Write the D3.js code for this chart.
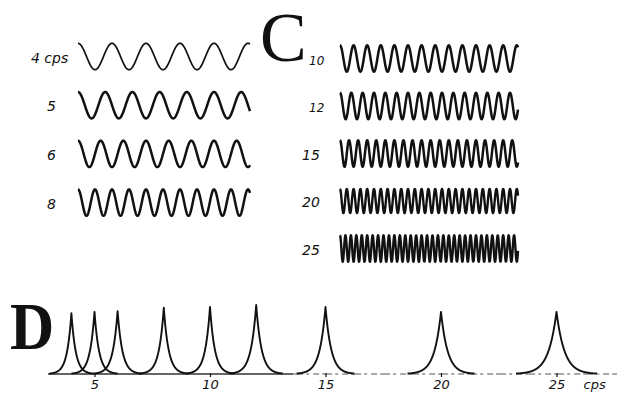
<!DOCTYPE html>
<html>
<head>
<meta charset="utf-8">
<script src="https://cdn.jsdelivr.net/npm/d3@7"></script>
<style>
  html, body { margin: 0; padding: 0; background: #fff; }
  svg { display: block; }
  .lbl { font-family: "DejaVu Sans", sans-serif; font-style: italic; fill: #111; }
</style>
</head>
<body>
<svg id="fig" width="617" height="393"></svg>
<script>
// Panel C: stimulus waveforms, one trace per flicker frequency (cycles per second)
const waveFreqs  = [4, 5, 6, 8, 10, 12, 15, 20, 25];
const waveLabels = ["4 cps", "5", "6", "8", "10", "12", "15", "20", "25"];

// Panel D: response spectra, one peak per stimulus frequency
const peakFreqs   = [4, 5, 6, 8, 10, 12, 15, 20, 25];
const peakHeights = [0.88, 0.90, 0.91, 0.96, 0.97, 1.00, 0.97, 0.90, 0.90];
const peakWidths  = [0.19, 0.20, 0.21, 0.21, 0.21, 0.23, 0.25, 0.29, 0.35];

// Frequency axis
const axisTicks      = [5, 10, 15, 20, 25];
const axisTickLabels = ["5", "10", "15", "20", "25"];
const axisUnit       = "cps";

const svg = d3.select("#fig");

// ---------- Panel C ----------
svg.append("text")
  .attr("x", 260).attr("y", 61)
  .attr("font-family", "Liberation Serif, serif")
  .attr("font-size", 70)
  .attr("fill", "#111")
  .text("C");

// row layout: left column holds the first four traces, right column the rest
const rows = waveFreqs.map((f, i) => {
  const left = i < 4;
  const r = left ? i : i - 4;
  return {
    f, label: waveLabels[i],
    cy: left ? 56.5 + r * 48.7 : 58.5 + r * 47.5,
    x0: left ? 78 : 340,
    x1: left ? 250 : 518,
    lx: left ? (i === 0 ? 31 : 47) : (r < 2 ? 309 : 302),
    ls: left ? 14 : (r < 2 ? 12 : 14),
    amp: left ? 13.2 : (f === 20 ? 12 : 13.2),
    sw: f === 4 ? 1.7 : (f >= 20 ? 2.4 : 2.5)
  };
});

const pxPerSec = 136; // time scale of the traces
rows.forEach(row => {
  const T = (row.x1 - row.x0) / pxPerSec;
  const tx = d3.scaleLinear().domain([0, T]).range([row.x0, row.x1]);
  const vy = d3.scaleLinear().domain([-1, 1]).range([row.cy + row.amp, row.cy - row.amp]);
  const ts = d3.range(0, T + 1e-9, T / 1200);
  const line = d3.line()
    .x(t => tx(t))
    .y(t => vy(Math.cos(2 * Math.PI * row.f * t)))
    .curve(d3.curveLinear);
  svg.append("path")
    .datum(ts)
    .attr("d", line)
    .attr("fill", "none")
    .attr("stroke", "#111")
    .attr("stroke-width", row.sw)
    .attr("stroke-linejoin", "round");
  svg.append("text")
    .attr("class", "lbl")
    .attr("x", row.lx).attr("y", row.cy + 6)
    .attr("font-size", row.ls)
    .text(row.label);
});

// ---------- Panel D ----------
svg.append("text")
  .attr("transform", "translate(10,349) scale(0.9,1)")
  .attr("font-family", "Liberation Serif, serif")
  .attr("font-weight", "bold")
  .attr("font-size", 68)
  .attr("fill", "#111")
  .text("D");

const baseY = 374;
const x = d3.scaleLinear().domain([5, 25]).range([94.5, 556.5]);
const y = d3.scaleLinear().domain([0, 1]).range([baseY, 305]);

// baseline: solid under the low-frequency peaks, broken further right
const fStart = x.invert(48), fSplit = 13.6, fEnd = x.invert(617);
svg.append("line")
  .attr("x1", x(fStart)).attr("x2", x(fSplit))
  .attr("y1", baseY).attr("y2", baseY)
  .attr("stroke", "#333").attr("stroke-width", 1.4);
svg.append("line")
  .attr("x1", x(fSplit)).attr("x2", x(fEnd))
  .attr("y1", baseY).attr("y2", baseY)
  .attr("stroke", "#555").attr("stroke-width", 1.2)
  .attr("stroke-dasharray", "10,3,3,4,6,3");

const axis = d3.axisBottom(x)
  .tickValues(axisTicks)
  .tickFormat((d, i) => axisTickLabels[i])
  .tickSizeInner(4).tickSizeOuter(0).tickPadding(3);
const gAxis = svg.append("g").attr("transform", `translate(0,${baseY - 1})`).call(axis);
gAxis.select(".domain").remove();
gAxis.selectAll(".tick line").attr("stroke", "#111").attr("stroke-width", 1.2);
gAxis.selectAll(".tick text")
  .attr("class", "lbl")
  .attr("font-size", 13)
  .attr("fill", "#111");
svg.append("text")
  .attr("class", "lbl")
  .attr("x", x(25) + 27).attr("y", baseY + 15)
  .attr("font-size", 13)
  .text(axisUnit);

// spectral peaks
const peakLine = d3.line().x(d => x(d[0])).y(d => y(d[1]));
peakFreqs.forEach((f0, i) => {
  const span = peakWidths[i] * 5;
  const pts = d3.range(f0 - span, f0 + span + 1e-9, 0.005)
    .map(f => [f, peakHeights[i] * Math.exp(-Math.abs(f - f0) / peakWidths[i])]);
  svg.append("path")
    .datum(pts)
    .attr("d", peakLine)
    .attr("fill", "none")
    .attr("stroke", "#111")
    .attr("stroke-width", 1.9)
    .attr("stroke-linejoin", "round");
});
</script>
</body>
</html>
